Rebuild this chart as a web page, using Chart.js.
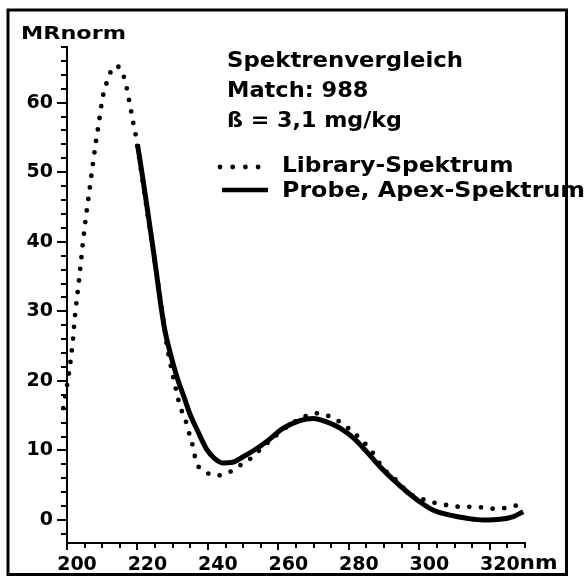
<!DOCTYPE html>
<html>
<head>
<meta charset="utf-8">
<script src="https://cdn.jsdelivr.net/npm/chart.js"></script>
<style>
  html, body { margin: 0; padding: 0; background: #fff; }
  canvas { display: block; }
</style>
</head>
<body>
<canvas id="spectrum" width="588" height="579"></canvas>
<script>
// Library spectrum (nm / normalised absorbance)
const libraryWavelengths = [198.95, 200.65, 201.5, 202.4, 203.2, 203.9, 204.6, 205.4, 206.3, 207.2,
  208.1, 209.1, 210.1, 211.0, 212.0, 214.0, 216.0, 216.9, 217.6, 218.2,
  218.8, 219.5, 220.0, 221.5, 223.0, 224.5, 226.0, 227.3, 228.3, 229.2,
  230.2, 231.1, 232.1, 233.5, 234.4, 235.4, 236.0, 236.8, 239.2, 242.5,
  245.8, 248.6, 251.5, 255.0, 259.0, 263.0, 267.6, 270.7, 274.0, 276.8,
  279.6, 282.2, 284.6, 286.9, 289.8, 293.1, 295.5, 298.3, 301.6, 304.9,
  308.4, 311.6, 314.9, 318.2, 321.8, 325.1, 328.4];
const libraryValues = [16.1, 21.5, 25.0, 30.0, 33.5, 36.8, 40.3, 43.7, 47.1, 50.6,
  54.0, 57.3, 60.7, 62.4, 64.0, 65.3, 63.9, 62.2, 60.4, 58.8,
  57.1, 55.4, 53.7, 48.6, 43.5, 38.5, 33.5, 29.0, 25.2, 22.8,
  20.4, 18.4, 16.3, 14.6, 12.9, 11.3, 9.8, 8.2, 6.95, 6.4,
  6.8, 7.7, 8.6, 10.2, 12.0, 13.6, 14.9, 15.35, 15.0, 14.3,
  13.3, 12.2, 11.0, 9.6, 7.4, 5.9, 4.6, 3.45, 2.9, 2.4,
  2.1, 1.9, 1.9, 1.8, 1.6, 1.8, 2.2];

// Sample spectrum taken at the peak apex
const probeWavelengths = [220.0, 221.5, 223.0, 224.5, 225.9, 226.6, 227.8, 229.0, 230.2, 231.5,
  233.2, 235.0, 237.0, 239.6, 242.0, 244.4, 247.0, 250.0, 253.0, 256.7,
  261.4, 266.1, 269.9, 273.7, 277.5, 281.3, 285.1, 288.8, 292.6, 296.4,
  300.2, 304.0, 308.7, 313.5, 318.2, 322.9, 326.7, 329.5];
const probeValues = [54.0, 49.2, 44.0, 38.8, 33.6, 31.0, 27.2, 24.6, 22.3, 20.1,
  17.7, 15.1, 12.9, 10.2, 8.8, 8.2, 8.3, 9.1, 10.0, 11.3,
  13.2, 14.3, 14.6, 14.1, 13.2, 11.8, 9.8, 7.7, 5.8, 4.1,
  2.6, 1.4, 0.7, 0.25, 0.0, 0.1, 0.5, 1.2];

const seriesLabels = ['Probe, Apex-Spektrum', 'Library-Spektrum'];
const infoLines = ['Spektrenvergleich', 'Match: 988', 'ß = 3,1 mg/kg'];
const yAxisTitle = 'MRnorm';
const xAxisUnit = 'nm';
const xTickLabels = [200, 220, 240, 260, 280, 300, 320];
const yTickLabels = [0, 10, 20, 30, 40, 50, 60];

const FONT = '"DejaVu Sans", "Liberation Sans", Arial, sans-serif';
const pairs = (xs, ys) => xs.map((x, i) => ({ x, y: ys[i] }));

// Draws bold text at (x, baseline), optionally stretched horizontally to a given width
function drawText(ctx, text, x, baseline, size, width) {
  ctx.save();
  ctx.font = 'bold ' + size + 'px ' + FONT;
  ctx.textAlign = 'left';
  ctx.textBaseline = 'alphabetic';
  ctx.fillStyle = '#000';
  const natural = ctx.measureText(text).width;
  const sx = width ? width / natural : 1;
  ctx.translate(x, baseline);
  ctx.scale(sx, 1);
  ctx.fillText(text, 0, 0);
  ctx.restore();
}

const decorations = {
  id: 'decorations',
  beforeDraw(chart) {
    const { ctx, width, height } = chart;
    ctx.save();
    ctx.fillStyle = '#fff';
    ctx.fillRect(0, 0, width, height);
    ctx.restore();
  },
  afterDraw(chart) {
    const { ctx, scales: { x, y }, chartArea } = chart;
    ctx.save();
    ctx.strokeStyle = '#000';
    ctx.lineWidth = 2;
    ctx.lineCap = 'butt';

    // y tick marks: every 2 units, longer at labelled values
    const axisX = chartArea.left;
    for (let v = -2; v <= y.max + 1e-6; v += 2) {
      const py = Math.round(y.getPixelForValue(v));
      const len = yTickLabels.includes(v) ? 10 : 6;
      ctx.beginPath();
      ctx.moveTo(axisX - len, py);
      ctx.lineTo(axisX, py);
      ctx.stroke();
    }
    // x tick marks: every 5 nm
    const axisY = chartArea.bottom;
    for (let v = x.min; v <= x.max + 1e-6; v += 5) {
      const px = Math.round(x.getPixelForValue(v));
      const len = xTickLabels.includes(v) ? 7 : 5;
      ctx.beginPath();
      ctx.moveTo(px, axisY);
      ctx.lineTo(px, axisY + len);
      ctx.stroke();
    }

    // outer frame
    ctx.lineWidth = 3;
    ctx.strokeRect(8, 10, 558.5, 564.5);
    ctx.restore();

    // axis title and unit
    drawText(ctx, yAxisTitle, 21, 39, 18.5, 105);
    const lastTick = xTickLabels[xTickLabels.length - 1];
    ctx.save();
    ctx.font = 'bold 19px ' + FONT;
    const tickW = ctx.measureText(String(lastTick)).width;
    ctx.restore();
    const unitX = x.getPixelForValue(lastTick) + 10 + tickW / 2;
    drawText(ctx, xAxisUnit, unitX, 569, 19, 38);

    // annotation block
    const infoBase = [67, 97, 127];
    const infoWidth = [236, 141.5, 175];
    infoLines.forEach((t, i) => drawText(ctx, t, 227, infoBase[i], 21.5, infoWidth[i]));

    // legend
    const lib = chart.data.datasets[1];
    const probe = chart.data.datasets[0];
    ctx.save();
    ctx.strokeStyle = '#000';
    ctx.lineWidth = lib.borderWidth;
    ctx.lineCap = 'round';
    ctx.setLineDash([0, 12.7]);
    ctx.beginPath();
    ctx.moveTo(220, 167);
    ctx.lineTo(259, 167);
    ctx.stroke();
    ctx.setLineDash([]);
    ctx.lineCap = 'butt';
    ctx.lineWidth = 4.5;
    ctx.beginPath();
    ctx.moveTo(222, 190);
    ctx.lineTo(268, 190);
    ctx.stroke();
    ctx.restore();
    drawText(ctx, lib.label, 282, 172, 22, 231.5);
    drawText(ctx, probe.label, 282, 197, 22, 303);
  }
};

const tickFont = { family: FONT, weight: 'bold', size: 19 };

new Chart(document.getElementById('spectrum'), {
  type: 'line',
  data: {
    datasets: [
      {
        label: seriesLabels[0],
        data: pairs(probeWavelengths, probeValues),
        borderColor: '#000',
        borderWidth: 5,
        borderJoinStyle: 'round',
        borderCapStyle: 'butt',
        cubicInterpolationMode: 'monotone',
        pointRadius: 0,
        fill: false
      },
      {
        label: seriesLabels[1],
        data: pairs(libraryWavelengths, libraryValues),
        borderColor: '#000',
        borderWidth: 4.8,
        borderCapStyle: 'round',
        borderDash: [0, 11.7],
        cubicInterpolationMode: 'monotone',
        pointRadius: 0,
        fill: false,
        clip: false
      }
    ]
  },
  options: {
    responsive: false,
    animation: false,
    events: [],
    layout: { padding: { left: 8, top: 47, right: 63, bottom: 6 } },
    plugins: { legend: { display: false }, tooltip: { enabled: false }, title: { display: false } },
    scales: {
      x: {
        type: 'linear',
        min: 200,
        max: 330,
        afterBuildTicks: s => { s.ticks = xTickLabels.map(v => ({ value: v })); },
        afterFit: s => { s.height = 30; },
        grid: { display: false, drawTicks: true, tickLength: 6 },
        border: { display: true, color: '#000', width: 2 },
        ticks: { color: '#000', font: tickFont, padding: 5, labelOffset: 10, maxRotation: 0, autoSkip: false,
                 callback: v => String(v) }
      },
      y: {
        type: 'linear',
        min: -3.3,
        max: 68,
        afterBuildTicks: s => { s.ticks = yTickLabels.map(v => ({ value: v })); },
        afterFit: s => { s.width = 59; },
        grid: { display: false, drawTicks: true, tickLength: 10 },
        border: { display: true, color: '#000', width: 2 },
        ticks: { color: '#000', font: tickFont, padding: 4, autoSkip: false, callback: v => String(v) }
      }
    }
  },
  plugins: [decorations]
});
</script>
</body>
</html>
